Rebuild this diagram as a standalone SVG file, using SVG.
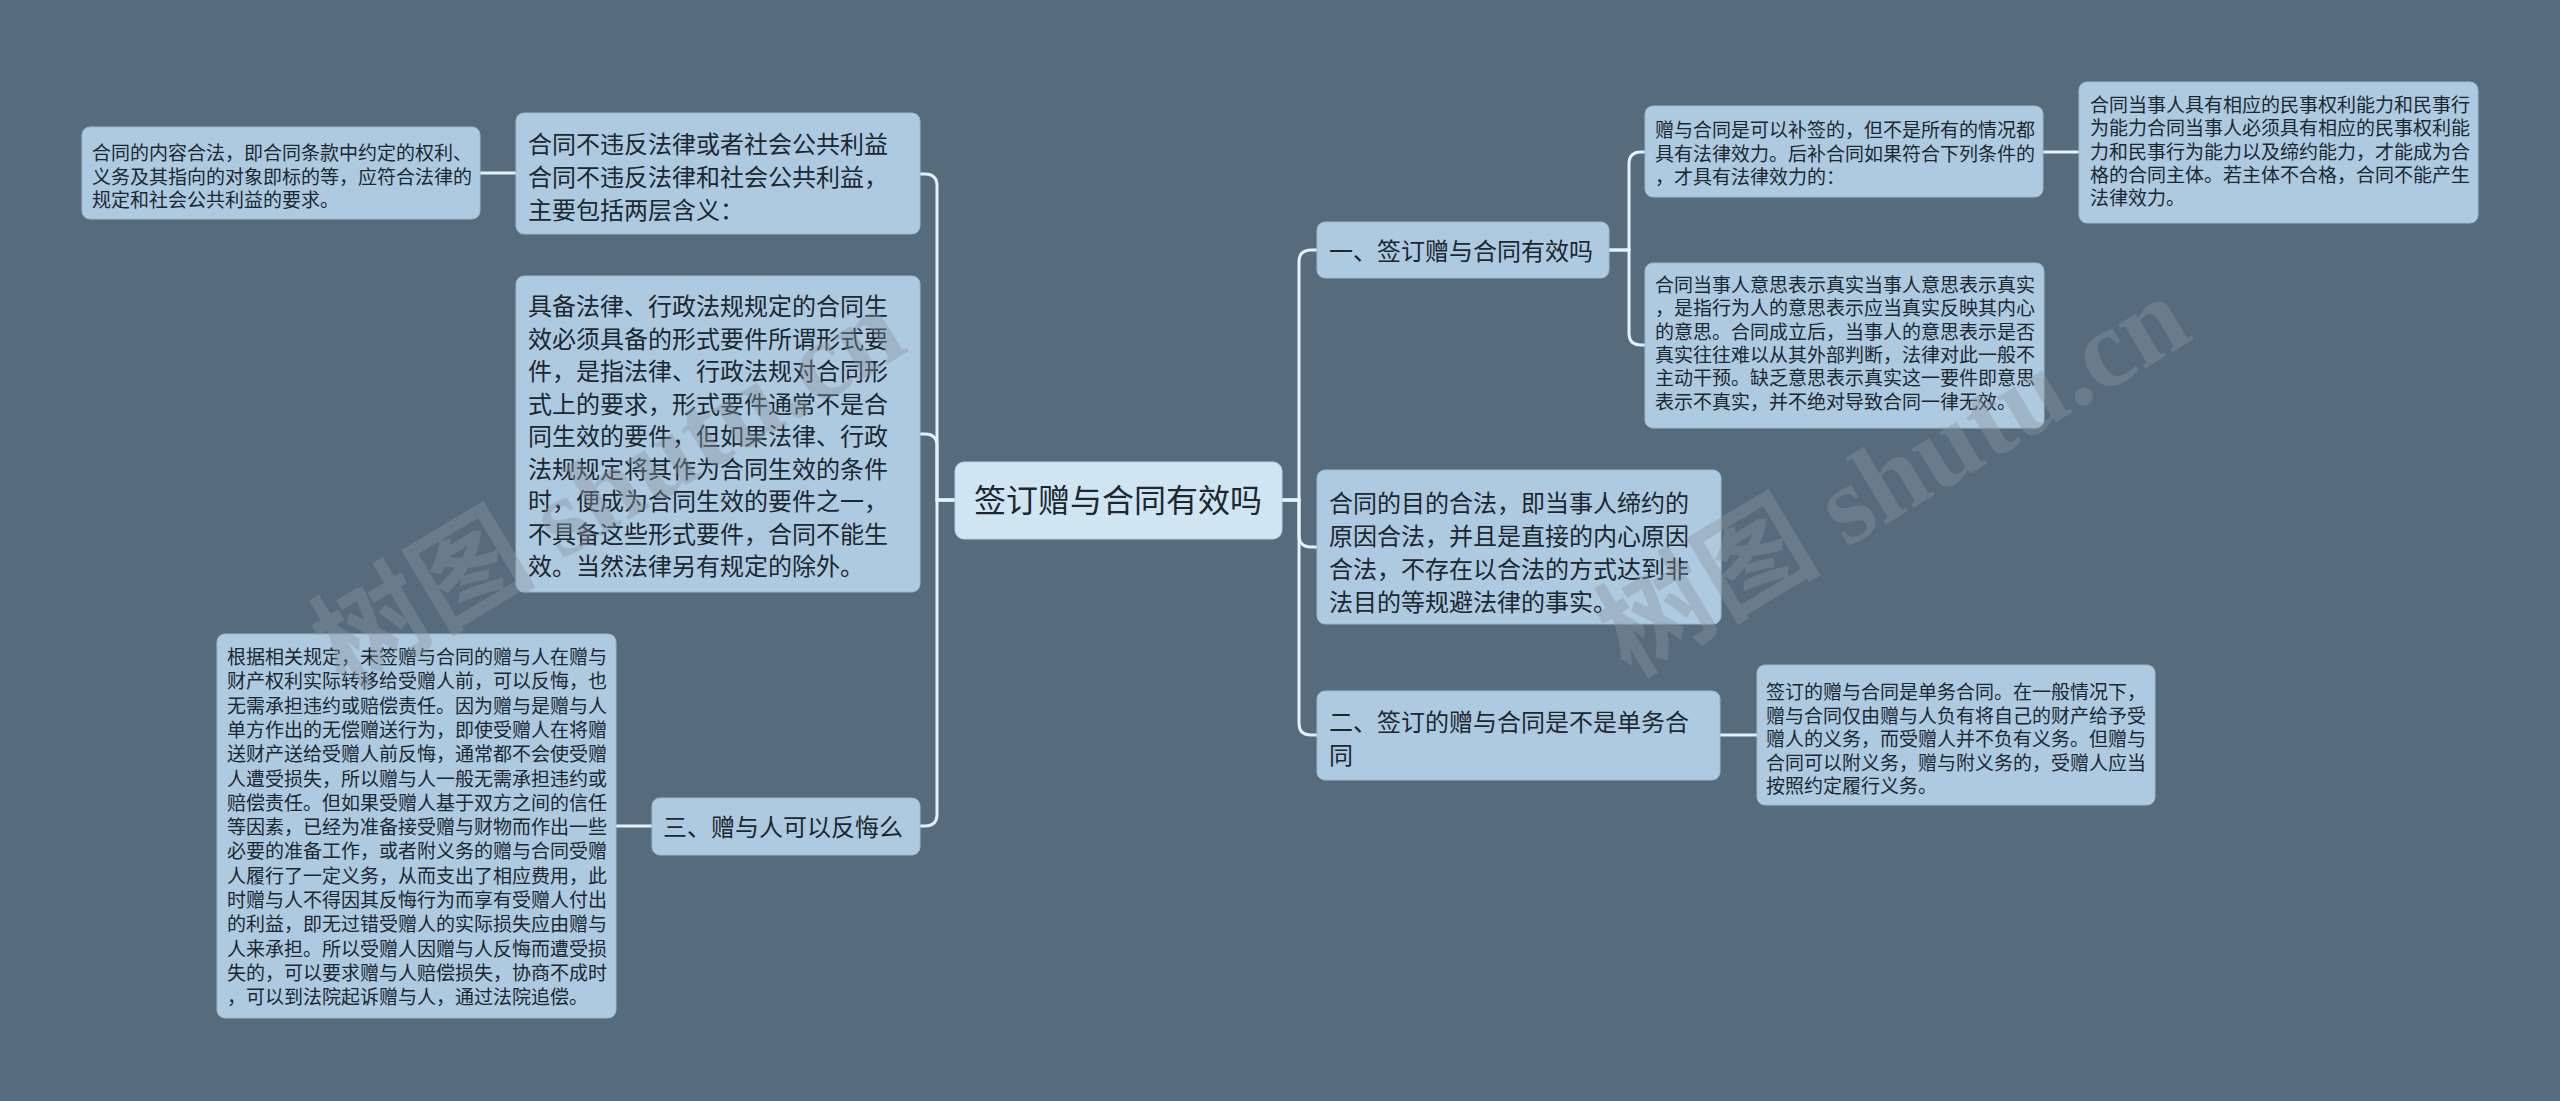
<svg xmlns="http://www.w3.org/2000/svg" width="2560" height="1101" viewBox="0 0 2560 1101">
<style>
.bg{fill:#566b7b}
.box{fill:#adcae1;stroke:#9db9cf;stroke-width:1}
.rootbox{fill:#d0e5f2;stroke:#b9d3e5;stroke-width:1}
.t{font-family:"Noto Sans CJK SC","Noto Sans",sans-serif;fill:#1c2730}
.s19{font-size:19px}
.s24{font-size:24px}
.s32{font-size:32px}
.conn{fill:none;stroke:#e2f1fb;stroke-width:3;stroke-linecap:round}
.wm{font-family:"Liberation Serif","Noto Sans CJK SC",serif;font-weight:bold;font-size:112px;fill:#8a969f;fill-opacity:0.4}
</style>
<rect class="bg" x="0" y="0" width="2560" height="1101"/>

<g id="connectors">
<path class="conn" d="M955,500 H937 V186 Q937,174 925,174 H920"/>
<path class="conn" d="M955,500 H937 V446 Q937,434 925,434 H920"/>
<path class="conn" d="M955,500 H937 V814 Q937,826 925,826 H920"/>
<path class="conn" d="M1282,500 H1299 V262 Q1299,250 1311,250 H1317"/>
<path class="conn" d="M1282,500 H1299 V535 Q1299,547 1311,547 H1317"/>
<path class="conn" d="M1282,500 H1299 V723 Q1299,735 1311,735 H1317"/>
<path class="conn" d="M1609,250 H1629 V164 Q1629,152 1641,152 H1645"/>
<path class="conn" d="M1609,250 H1629 V333 Q1629,345 1641,345 H1645"/>
<path class="conn" d="M480,173 H516"/>
<path class="conn" d="M616,826 H652"/>
<path class="conn" d="M2043,152 H2079"/>
<path class="conn" d="M1720,735 H1757"/>
</g>

<g id="root">
<rect class="rootbox" x="955" y="462" width="327" height="77" rx="9"/>
<text class="t s32" x="1118" y="512" text-anchor="middle">签订赠与合同有效吗</text>
</g>

<g id="node-a">
<rect class="box" x="82" y="127" width="398" height="92" rx="8"/>
<text class="t s19"><tspan x="92" y="160">合同的内容合法，即合同条款中约定的权利、</tspan><tspan x="92" y="184">义务及其指向的对象即标的等，应符合法律的</tspan><tspan x="92" y="207">规定和社会公共利益的要求。</tspan></text>
</g>

<g id="node-b">
<rect class="box" x="516" y="113" width="404" height="121" rx="8"/>
<text class="t s24"><tspan x="528" y="153">合同不违反法律或者社会公共利益</tspan><tspan x="528" y="186">合同不违反法律和社会公共利益，</tspan><tspan x="528" y="219">主要包括两层含义：</tspan></text>
</g>

<g id="node-c">
<rect class="box" x="516" y="276" width="404" height="316" rx="8"/>
<text class="t s24"><tspan x="528" y="315">具备法律、行政法规规定的合同生</tspan><tspan x="528" y="347.5">效必须具备的形式要件所谓形式要</tspan><tspan x="528" y="380">件，是指法律、行政法规对合同形</tspan><tspan x="528" y="412.5">式上的要求，形式要件通常不是合</tspan><tspan x="528" y="445">同生效的要件，但如果法律、行政</tspan><tspan x="528" y="477.5">法规规定将其作为合同生效的条件</tspan><tspan x="528" y="510">时，便成为合同生效的要件之一，</tspan><tspan x="528" y="542.5">不具备这些形式要件，合同不能生</tspan><tspan x="528" y="575">效。当然法律另有规定的除外。</tspan></text>
</g>

<g id="node-d">
<rect class="box" x="217" y="634" width="399" height="384" rx="8"/>
<text class="t s19"><tspan x="227" y="664">根据相关规定，未签赠与合同的赠与人在赠与</tspan><tspan x="227" y="688.3">财产权利实际转移给受赠人前，可以反悔，也</tspan><tspan x="227" y="712.6">无需承担违约或赔偿责任。因为赠与是赠与人</tspan><tspan x="227" y="736.9">单方作出的无偿赠送行为，即使受赠人在将赠</tspan><tspan x="227" y="761.2">送财产送给受赠人前反悔，通常都不会使受赠</tspan><tspan x="227" y="785.5">人遭受损失，所以赠与人一般无需承担违约或</tspan><tspan x="227" y="809.8">赔偿责任。但如果受赠人基于双方之间的信任</tspan><tspan x="227" y="834.1">等因素，已经为准备接受赠与财物而作出一些</tspan><tspan x="227" y="858.4">必要的准备工作，或者附义务的赠与合同受赠</tspan><tspan x="227" y="882.7">人履行了一定义务，从而支出了相应费用，此</tspan><tspan x="227" y="907">时赠与人不得因其反悔行为而享有受赠人付出</tspan><tspan x="227" y="931.3">的利益，即无过错受赠人的实际损失应由赠与</tspan><tspan x="227" y="955.6">人来承担。所以受赠人因赠与人反悔而遭受损</tspan><tspan x="227" y="979.9">失的，可以要求赠与人赔偿损失，协商不成时</tspan><tspan x="227" y="1004.2">，可以到法院起诉赠与人，通过法院追偿。</tspan></text>
</g>

<g id="node-e">
<rect class="box" x="652" y="798" width="268" height="57" rx="8"/>
<text class="t s24" x="663" y="836">三、赠与人可以反悔么</text>
</g>

<g id="node-f">
<rect class="box" x="1317" y="222" width="292" height="56" rx="8"/>
<text class="t s24" x="1329" y="260">一、签订赠与合同有效吗</text>
</g>

<g id="node-g">
<rect class="box" x="1645" y="106" width="398" height="91" rx="8"/>
<text class="t s19"><tspan x="1655" y="137">赠与合同是可以补签的，但不是所有的情况都</tspan><tspan x="1655" y="160.5">具有法律效力。后补合同如果符合下列条件的</tspan><tspan x="1655" y="184">，才具有法律效力的：</tspan></text>
</g>

<g id="node-h">
<rect class="box" x="2079" y="82" width="399" height="141" rx="8"/>
<text class="t s19"><tspan x="2090" y="112">合同当事人具有相应的民事权利能力和民事行</tspan><tspan x="2090" y="135.3">为能力合同当事人必须具有相应的民事权利能</tspan><tspan x="2090" y="158.6">力和民事行为能力以及缔约能力，才能成为合</tspan><tspan x="2090" y="181.9">格的合同主体。若主体不合格，合同不能产生</tspan><tspan x="2090" y="205.2">法律效力。</tspan></text>
</g>

<g id="node-i">
<rect class="box" x="1645" y="263" width="399" height="165" rx="8"/>
<text class="t s19"><tspan x="1655" y="292">合同当事人意思表示真实当事人意思表示真实</tspan><tspan x="1655" y="315.3">，是指行为人的意思表示应当真实反映其内心</tspan><tspan x="1655" y="338.6">的意思。合同成立后，当事人的意思表示是否</tspan><tspan x="1655" y="361.9">真实往往难以从其外部判断，法律对此一般不</tspan><tspan x="1655" y="385.2">主动干预。缺乏意思表示真实这一要件即意思</tspan><tspan x="1655" y="408.5">表示不真实，并不绝对导致合同一律无效。</tspan></text>
</g>

<g id="node-j">
<rect class="box" x="1317" y="470" width="404" height="154" rx="8"/>
<text class="t s24"><tspan x="1329" y="512">合同的目的合法，即当事人缔约的</tspan><tspan x="1329" y="545">原因合法，并且是直接的内心原因</tspan><tspan x="1329" y="578">合法，不存在以合法的方式达到非</tspan><tspan x="1329" y="611">法目的等规避法律的事实。</tspan></text>
</g>

<g id="node-k">
<rect class="box" x="1317" y="691" width="403" height="89" rx="8"/>
<text class="t s24"><tspan x="1329" y="731">二、签订的赠与合同是不是单务合</tspan><tspan x="1329" y="764">同</tspan></text>
</g>

<g id="node-l">
<rect class="box" x="1757" y="665" width="398" height="140" rx="8"/>
<text class="t s19"><tspan x="1766" y="699">签订的赠与合同是单务合同。在一般情况下，</tspan><tspan x="1766" y="722.6">赠与合同仅由赠与人负有将自己的财产给予受</tspan><tspan x="1766" y="746.2">赠人的义务，而受赠人并不负有义务。但赠与</tspan><tspan x="1766" y="769.8">合同可以附义务，赠与附义务的，受赠人应当</tspan><tspan x="1766" y="793.4">按照约定履行义务。</tspan></text>
</g>

<g id="watermarks">
<text class="wm" x="345" y="690" transform="rotate(-31 345 690)">树图 shutu.cn</text>
<text class="wm" x="1630" y="678" transform="rotate(-31 1630 678)">树图 shutu.cn</text>
</g>
</svg>
